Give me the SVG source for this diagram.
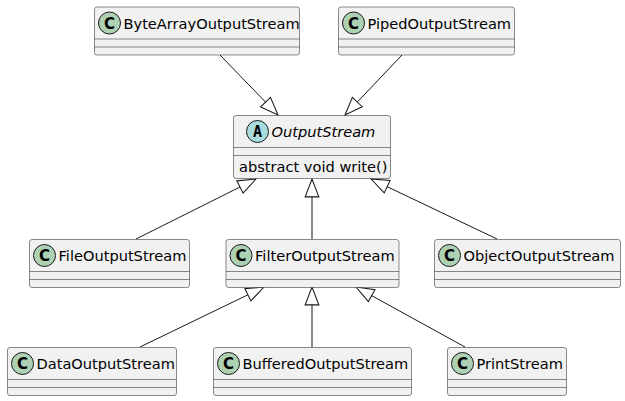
<svg xmlns="http://www.w3.org/2000/svg" width="625" height="401" viewBox="0 0 625 401">
<style>
.box{fill:#F1F1F1;stroke:#181818;stroke-width:0.5}
.sep{stroke:#181818;stroke-width:0.5}
.cc{fill:#ADD1B2;stroke:#181818;stroke-width:1}
.ca{fill:#A9DCDF;stroke:#181818;stroke-width:1}
.t{font-family:"DejaVu Sans",sans-serif;font-size:14.6px;fill:#000}
.l{font-family:"DejaVu Sans",sans-serif;font-size:15px;font-weight:bold;fill:#000;text-anchor:middle}
.e{stroke:#181818;stroke-width:1;fill:none;marker-end:url(#tri)}
</style>
<defs>
<marker id="tri" markerUnits="userSpaceOnUse" markerWidth="20" markerHeight="16" viewBox="-1 -1 19 15" refX="17" refY="6.5" orient="auto">
<path d="M0,0 L17,6.5 L0,13 Z" fill="#fff" stroke="#181818" stroke-width="1"/>
</marker>
</defs>
<rect width="625" height="401" fill="#fff"/>
<g id="connectors">
<line class="e" x1="220" y1="55" x2="278" y2="115"/>
<line class="e" x1="402" y1="55" x2="345" y2="115"/>
<line class="e" x1="136" y1="239" x2="256" y2="179"/>
<line class="e" x1="312" y1="239" x2="312" y2="179"/>
<line class="e" x1="497" y1="239" x2="371" y2="179"/>
<line class="e" x1="140" y1="347" x2="264" y2="287"/>
<line class="e" x1="312" y1="347" x2="312" y2="287"/>
<line class="e" x1="465" y1="347" x2="356" y2="287"/>
</g>
<g id="ByteArrayOutputStream">
<rect class="box" x="94.5" y="7" width="205" height="48" rx="2.5"/>
<line class="sep" x1="94.5" y1="39" x2="299.5" y2="39"/>
<line class="sep" x1="94.5" y1="47" x2="299.5" y2="47"/>
<circle class="cc" cx="109.5" cy="23" r="11"/>
<text class="l" x="109.5" y="28.5">C</text>
<text class="t" x="123.5" y="28.5">ByteArrayOutputStream</text>
</g>
<g id="PipedOutputStream">
<rect class="box" x="338.5" y="7" width="176" height="48" rx="2.5"/>
<line class="sep" x1="338.5" y1="39" x2="514.5" y2="39"/>
<line class="sep" x1="338.5" y1="47" x2="514.5" y2="47"/>
<circle class="cc" cx="353.5" cy="23" r="11"/>
<text class="l" x="353.5" y="28.5">C</text>
<text class="t" x="367.5" y="28.5">PipedOutputStream</text>
</g>
<g id="OutputStream">
<rect class="box" x="233.5" y="115.5" width="157" height="63" rx="2.5"/>
<line class="sep" x1="233.5" y1="147.5" x2="390.5" y2="147.5"/>
<line class="sep" x1="233.5" y1="155.5" x2="390.5" y2="155.5"/>
<circle class="ca" cx="257.5" cy="131.5" r="11"/>
<text class="l" x="257.5" y="136.5" style="font-family:'DejaVu Sans Mono',monospace">A</text>
<text class="t" x="271.5" y="137" font-style="italic">OutputStream</text>
<text class="t" x="239" y="172">abstract void write()</text>
</g>
<g id="FileOutputStream">
<rect class="box" x="29.5" y="239.5" width="160" height="48" rx="2.5"/>
<line class="sep" x1="29.5" y1="271.5" x2="189.5" y2="271.5"/>
<line class="sep" x1="29.5" y1="279.5" x2="189.5" y2="279.5"/>
<circle class="cc" cx="44.5" cy="255.5" r="11"/>
<text class="l" x="44.5" y="261">C</text>
<text class="t" x="58.5" y="261">FileOutputStream</text>
</g>
<g id="FilterOutputStream">
<rect class="box" x="226" y="239.5" width="173" height="48" rx="2.5"/>
<line class="sep" x1="226" y1="271.5" x2="399" y2="271.5"/>
<line class="sep" x1="226" y1="279.5" x2="399" y2="279.5"/>
<circle class="cc" cx="241" cy="255.5" r="11"/>
<text class="l" x="241" y="261">C</text>
<text class="t" x="255" y="261">FilterOutputStream</text>
</g>
<g id="ObjectOutputStream">
<rect class="box" x="434.5" y="239.5" width="186" height="48" rx="2.5"/>
<line class="sep" x1="434.5" y1="271.5" x2="620.5" y2="271.5"/>
<line class="sep" x1="434.5" y1="279.5" x2="620.5" y2="279.5"/>
<circle class="cc" cx="449.5" cy="255.5" r="11"/>
<text class="l" x="449.5" y="261">C</text>
<text class="t" x="463.5" y="261">ObjectOutputStream</text>
</g>
<g id="DataOutputStream">
<rect class="box" x="7.5" y="347.5" width="169" height="48" rx="2.5"/>
<line class="sep" x1="7.5" y1="379.5" x2="176.5" y2="379.5"/>
<line class="sep" x1="7.5" y1="387.5" x2="176.5" y2="387.5"/>
<circle class="cc" cx="22.5" cy="363.5" r="11"/>
<text class="l" x="22.5" y="369">C</text>
<text class="t" x="36.5" y="369">DataOutputStream</text>
</g>
<g id="BufferedOutputStream">
<rect class="box" x="213.5" y="347.5" width="198" height="48" rx="2.5"/>
<line class="sep" x1="213.5" y1="379.5" x2="411.5" y2="379.5"/>
<line class="sep" x1="213.5" y1="387.5" x2="411.5" y2="387.5"/>
<circle class="cc" cx="228.5" cy="363.5" r="11"/>
<text class="l" x="228.5" y="369">C</text>
<text class="t" x="242.5" y="369">BufferedOutputStream</text>
</g>
<g id="PrintStream">
<rect class="box" x="447.5" y="347.5" width="119" height="48" rx="2.5"/>
<line class="sep" x1="447.5" y1="379.5" x2="566.5" y2="379.5"/>
<line class="sep" x1="447.5" y1="387.5" x2="566.5" y2="387.5"/>
<circle class="cc" cx="462.5" cy="363.5" r="11"/>
<text class="l" x="462.5" y="369">C</text>
<text class="t" x="476.5" y="369">PrintStream</text>
</g>
</svg>
